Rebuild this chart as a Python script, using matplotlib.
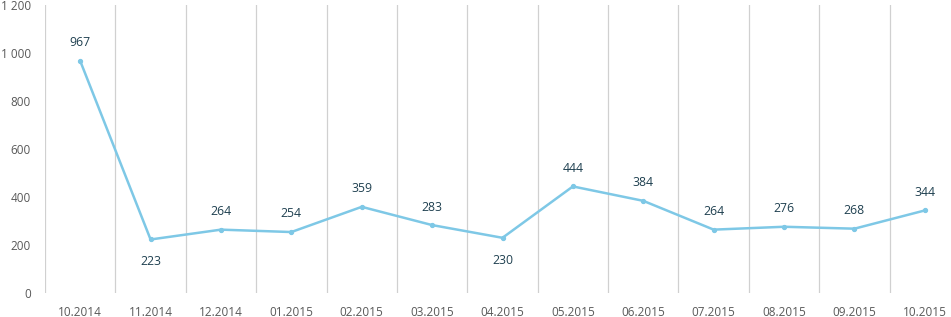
import matplotlib
matplotlib.use("Agg")
import matplotlib.pyplot as plt
from matplotlib.ticker import FuncFormatter

categories = ["10.2014", "11.2014", "12.2014", "01.2015", "02.2015", "03.2015", "04.2015",
              "05.2015", "06.2015", "07.2015", "08.2015", "09.2015", "10.2015"]
values = [967, 223, 264, 254, 359, 283, 230, 444, 384, 264, 276, 268, 344]
below = {"11.2014", "04.2015"}

plt.rcParams['font.family'] = ['Open Sans', 'DejaVu Sans']

W, H = 951, 317
fig = plt.figure(figsize=(W / 100, H / 100), dpi=100)
left, right, top, bottom = 45, 960, 5, 293
ax = fig.add_axes([left / W, (H - bottom) / H, (right - left) / W, (bottom - top) / H])

x = list(range(len(categories)))
ax.plot(x, values, color="#7ec8e6", lw=1.8, marker="o", ms=2.8, zorder=3)
ax.set_xlim(-0.5, len(categories) - 0.5)
ax.set_ylim(0, 1200)
ax.set_yticks(range(0, 1201, 200))
ax.yaxis.set_major_formatter(FuncFormatter(lambda v, p: f"{int(v):,}".replace(",", " ")))
ax.set_xticks(x)
ax.set_xticklabels(categories)
for b in [i - 0.5 for i in range(len(categories) + 1)]:
    ax.axvline(b, color="#d0d0d0", lw=0.9, zorder=1)
for s in ax.spines.values():
    s.set_visible(False)
ax.tick_params(axis="both", length=0, colors="#595959", labelsize=8.5)
ax.tick_params(axis="x", pad=9)
ax.tick_params(axis="y", pad=10)
for xi, c, v in zip(x, categories, values):
    off = -16 if c in below else 13
    ax.annotate(str(v), (xi, v), xytext=(0, off), textcoords="offset points",
                ha="center", va="center", fontsize=8.8, color="#1f4050")

fig.savefig("out.png", dpi=100)
